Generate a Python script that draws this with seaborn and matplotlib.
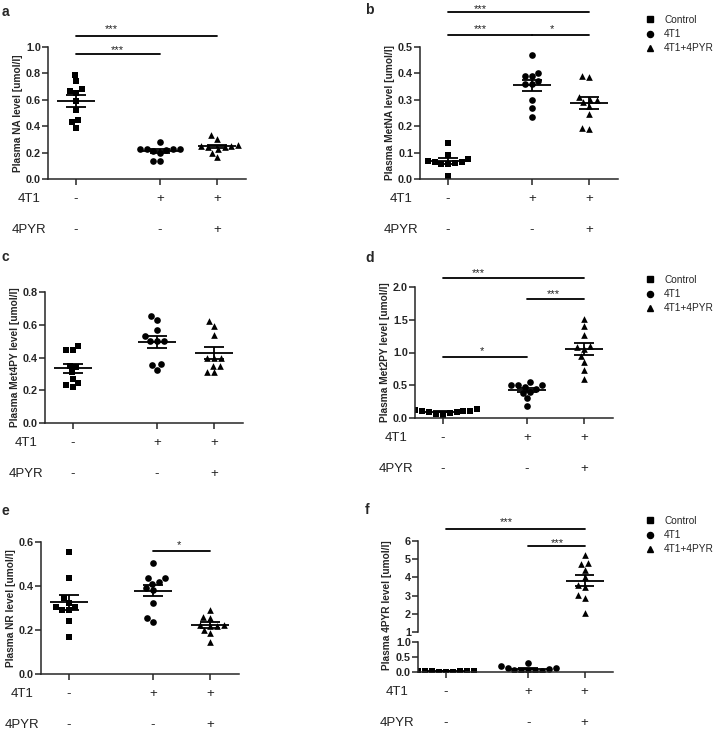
import numpy as np
import pandas as pd
import matplotlib
matplotlib.use("Agg")
import matplotlib.pyplot as plt
import seaborn as sns
from matplotlib.lines import Line2D
from matplotlib.transforms import blended_transform_factory

# groups and treatment rows
groups = ["Control", "4T1", "4T1+4PYR"]
row_4t1 = ["-", "+", "+"]
row_4pyr = ["-", "-", "+"]

# a - NA
na_ctrl = [0.79, 0.74, 0.68, 0.67, 0.65, 0.59, 0.52, 0.45, 0.43, 0.39]
na_4t1 = [0.28, 0.23, 0.23, 0.23, 0.23, 0.22, 0.21, 0.20, 0.14, 0.14]
na_pyr = [0.33, 0.30, 0.26, 0.25, 0.25, 0.24, 0.24, 0.23, 0.20, 0.165]
# b - MetNA
metna_ctrl = [0.135, 0.09, 0.075, 0.07, 0.065, 0.065, 0.06, 0.055, 0.055, 0.01]
metna_4t1 = [0.47, 0.40, 0.39, 0.39, 0.37, 0.36, 0.36, 0.30, 0.27, 0.235]
metna_pyr = [0.39, 0.385, 0.31, 0.30, 0.30, 0.29, 0.275, 0.245, 0.195, 0.19]
# c - Met4PY
met4py_ctrl = [0.47, 0.445, 0.445, 0.35, 0.34, 0.31, 0.27, 0.245, 0.235, 0.22]
met4py_4t1 = [0.655, 0.63, 0.57, 0.53, 0.50, 0.50, 0.50, 0.36, 0.355, 0.325]
met4py_pyr = [0.62, 0.59, 0.535, 0.40, 0.40, 0.40, 0.35, 0.35, 0.31, 0.31]
# d - Met2PY
met2py_ctrl = [0.13, 0.12, 0.11, 0.11, 0.10, 0.09, 0.09, 0.08, 0.06, 0.05]
met2py_4t1 = [0.55, 0.51, 0.50, 0.50, 0.48, 0.44, 0.40, 0.38, 0.30, 0.19]
met2py_pyr = [1.51, 1.40, 1.27, 1.10, 1.08, 1.05, 0.95, 0.86, 0.73, 0.60]
# e - NR
nr_ctrl = [0.553, 0.435, 0.347, 0.325, 0.305, 0.305, 0.29, 0.29, 0.24, 0.17]
nr_4t1 = [0.505, 0.435, 0.435, 0.42, 0.41, 0.39, 0.38, 0.325, 0.254, 0.238]
nr_pyr = [0.29, 0.26, 0.255, 0.225, 0.225, 0.22, 0.22, 0.20, 0.185, 0.145]
# f - 4PYR
pyr_ctrl = [0.05, 0.04, 0.03, 0.03, 0.02, 0.02, 0.02, 0.01, 0.01, 0.0]
pyr_4t1 = [0.30, 0.20, 0.15, 0.12, 0.10, 0.08, 0.05, 0.05, 0.04, 0.03]
pyr_pyr = [5.23, 4.77, 4.71, 4.40, 4.00, 3.60, 3.50, 3.02, 2.88, 2.07]

# significance: (group i, group j, label)
sig_a = [(0, 2, "***"), (0, 1, "***")]
sig_b = [(0, 2, "***"), (0, 1, "***"), (1, 2, "*")]
sig_d = [(0, 2, "***"), (1, 2, "***"), (0, 1, "*")]
sig_e = [(1, 2, "*")]
sig_f = [(0, 2, "***"), (1, 2, "***")]

# ---- layout / style ----
POS = [0, 1, 1.68]
MARKERS = ["s", "o", "^"]
XLIM = (-0.333, 2.024)
W, H = 720, 730

sns.set_style("ticks")
plt.rcParams["font.family"] = ["Liberation Sans", "DejaVu Sans"]
plt.rcParams["axes.linewidth"] = 1.1

fig = plt.figure(figsize=(W / 100, H / 100), dpi=100)


def add_ax(left, top, right, bottom):
    return fig.add_axes([left / W, 1 - bottom / H, (right - left) / W, (bottom - top) / H])


def style_ax(ax, ylim, step, fmt="{:.1f}", bottom=True):
    ax.set_xlim(*XLIM)
    ax.set_ylim(*ylim)
    ticks = np.arange(ylim[0], ylim[1] + step / 2, step)
    ax.set_yticks(ticks)
    ax.set_yticklabels([fmt.format(t) for t in ticks], fontweight="bold", fontsize=7.8)
    ax.set_xlabel("")
    ax.set_ylabel("")
    sns.despine(ax=ax)
    ax.tick_params(axis="y", direction="out", length=4, width=1.1, pad=1)
    if bottom:
        ax.set_xticks(POS)
        ax.set_xticklabels([])
        ax.tick_params(axis="x", direction="out", length=4, width=1.1)
    else:
        ax.spines["bottom"].set_visible(False)
        ax.set_xticks([])


def draw_groups(ax, values, keep=None):
    for g, vals in enumerate(values):
        vals = np.asarray(vals, dtype=float)
        sub = vals if keep is None else vals[keep(vals)]
        if len(sub):
            df = pd.DataFrame({"pos": POS[g], "value": sub})
            sns.swarmplot(data=df, x="pos", y="value", native_scale=True, orient="x",
                          marker=MARKERS[g], color="black", size=4.8, linewidth=0,
                          ax=ax, legend=False, zorder=2)
        m = vals.mean()
        se = vals.std(ddof=1) / np.sqrt(len(vals))
        x = POS[g]
        ax.hlines(m, x - 0.23, x + 0.23, color="black", lw=1.3, zorder=3)
        ax.hlines([m - se, m + se], x - 0.12, x + 0.12, color="black", lw=1.3, zorder=3)
        ax.vlines(x, m - se, m + se, color="black", lw=1.3, zorder=3)


def draw_sig(ax, sigs, heights):
    for (i, j, lab), (yb, ys, xs) in zip(sigs, heights):
        ax.plot([POS[i], POS[j]], [yb, yb], color="black", lw=1.3, clip_on=False)
        ax.annotate(lab, xy=(xs, ys), xytext=(0, -4.6), textcoords="offset points",
                    ha="center", va="baseline", fontsize=8, color="#222222",
                    annotation_clip=False)


def draw_rows(ax, label_dx=-19):
    tr = blended_transform_factory(ax.transData, ax.transAxes)
    for lab, row, dy in [("4T1", row_4t1, -20), ("4PYR", row_4pyr, -51)]:
        ax.annotate(lab, xy=(0, 0), xycoords="axes fraction",
                    xytext=(label_dx * 0.72, dy * 0.72), textcoords="offset points",
                    ha="center", va="center", fontsize=9.5, color="#222222",
                    annotation_clip=False)
        for g, s in enumerate(row):
            ax.annotate(s, xy=(POS[g], 0), xycoords=tr,
                        xytext=(0, dy * 0.72), textcoords="offset points",
                        ha="center", va="center", fontsize=9.5, color="#222222",
                        annotation_clip=False)


def draw_legend(x, y):
    handles = [Line2D([], [], marker=m, color="black", linestyle="none", markersize=4.4)
               for m in MARKERS]
    fig.legend(handles, groups, loc="upper left", bbox_to_anchor=(x / W, 1 - y / H),
               frameon=False, fontsize=7.3, handletextpad=1.0, labelspacing=0.4,
               borderpad=0, borderaxespad=0, handlelength=0.8)


def letter(x, y, s):
    fig.text(x / W, 1 - y / H, s, fontsize=10, fontweight="bold", va="center", ha="left")


panels = [
    ("a", (48, 47, 246, 179), [na_ctrl, na_4t1, na_pyr], (0, 1.0), 0.2,
     "Plasma NA level [umol/l]", sig_a, [(1.083, 1.16, 0.42), (0.947, 1.0, 0.49)], (2, 12), None),
    ("b", (420, 47, 618, 179), [metna_ctrl, metna_4t1, metna_pyr], (0, 0.5), 0.1,
     "Plasma MetNA level [umol/l]", sig_b,
     [(0.633, 0.658, 0.39), (0.545, 0.58, 0.39), (0.545, 0.58, 1.24)], (365, 10), (646, 15)),
    ("c", (45, 292, 243, 423), [met4py_ctrl, met4py_4t1, met4py_pyr], (0, 0.8), 0.2,
     "Plasma Met4PY level [umol/l]", [], [], (2, 257), None),
    ("d", (415, 287, 613, 418), [met2py_ctrl, met2py_4t1, met2py_pyr], (0, 2.0), 0.5,
     "Plasma Met2PY level [umol/l]", sig_d,
     [(2.14, 2.27, 0.42), (1.82, 1.94, 1.31), (0.93, 1.07, 0.46)], (365, 258), (646, 275)),
    ("e", (41, 542, 239, 674), [nr_ctrl, nr_4t1, nr_pyr], (0, 0.6), 0.2,
     "Plasma NR level [umol/l]", sig_e, [(0.56, 0.60, 1.31)], (2, 511), None),
]

for name, box, vals, ylim, step, ylab, sigs, hts, lpos, legpos in panels:
    ax = add_ax(*box)
    draw_groups(ax, vals)
    style_ax(ax, ylim, step)
    ax.set_ylabel(ylab, fontsize=7.3, fontweight="bold", labelpad=2)
    draw_sig(ax, sigs, hts)
    draw_rows(ax)
    letter(lpos[0], lpos[1], name)
    if legpos:
        draw_legend(*legpos)

# f - broken axis
f_vals = [pyr_ctrl, pyr_4t1, pyr_pyr]
ax_top = add_ax(418, 541, 613, 632)
draw_groups(ax_top, f_vals, keep=lambda v: v >= 1)
style_ax(ax_top, (1, 6), 1, fmt="{:.0f}", bottom=False)
draw_sig(ax_top, sig_f, [(6.66, 7.2, 0.73), (5.73, 6.05, 1.35)])

ax_bot = add_ax(418, 642, 613, 672)
draw_groups(ax_bot, f_vals, keep=lambda v: v <= 1)
style_ax(ax_bot, (0, 1.0), 0.5)
draw_rows(ax_bot, label_dx=-21)
fig.text(387 / W, 1 - 605 / H, "Plasma 4PYR level [umol/l]", rotation=90,
         fontsize=7.3, fontweight="bold", ha="center", va="center")
letter(365, 510, "f")
draw_legend(646, 516)

fig.savefig("out.png", dpi=100)
